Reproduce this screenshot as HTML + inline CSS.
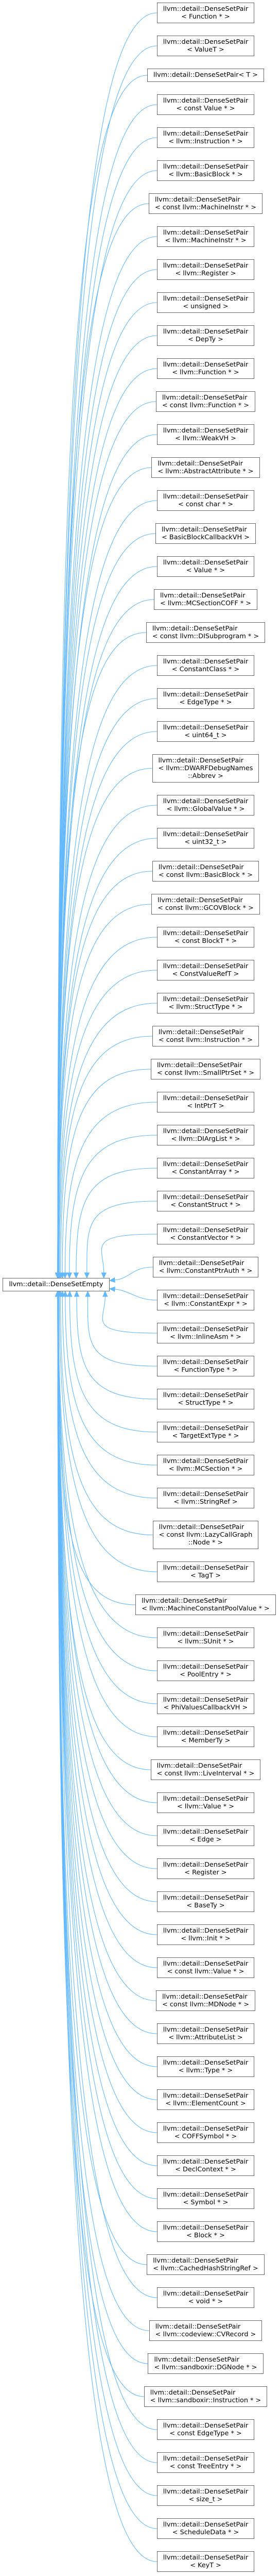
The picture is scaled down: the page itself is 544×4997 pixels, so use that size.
<!DOCTYPE html>
<html><head><meta charset="utf-8">
<style>
html,body{margin:0;padding:0;background:#fff;}
body{width:544px;height:4997px;position:relative;overflow:hidden;font-family:"DejaVu Sans","Liberation Sans",sans-serif;font-size:12.8px;color:#000;}
#col{position:absolute;left:256px;width:287px;top:5px;display:flex;flex-direction:column;align-items:center;gap:24px;}
.n{box-sizing:border-box;border:1px solid #666;background:#fff;padding:4px 11px;line-height:15px;height:40px;white-space:nowrap;text-align:center;position:relative;z-index:2;}
.n span{display:block;}
.n span:first-child{text-align:left;}
.n.s{height:26px;padding-top:4px;}
.n.t{height:55px;}
#root{position:absolute;left:5px;top:2479px;width:208px;height:26px;box-sizing:border-box;border:1px solid #666;background:#fff;text-align:center;line-height:24px;z-index:2;}
svg{position:absolute;left:0;top:0;z-index:1;}
</style></head><body>
<svg id="sv" width="544" height="4997"></svg>
<div id="root">llvm::detail::DenseSetEmpty</div>
<div id="col">
<div class="n"><span>llvm::detail::DenseSetPair</span><span>&lt; Function * &gt;</span></div>
<div class="n"><span>llvm::detail::DenseSetPair</span><span>&lt; ValueT &gt;</span></div>
<div class="n s"><span>llvm::detail::DenseSetPair&lt; T &gt;</span></div>
<div class="n"><span>llvm::detail::DenseSetPair</span><span>&lt; const Value * &gt;</span></div>
<div class="n"><span>llvm::detail::DenseSetPair</span><span>&lt; llvm::Instruction * &gt;</span></div>
<div class="n"><span>llvm::detail::DenseSetPair</span><span>&lt; llvm::BasicBlock * &gt;</span></div>
<div class="n"><span>llvm::detail::DenseSetPair</span><span>&lt; const llvm::MachineInstr * &gt;</span></div>
<div class="n"><span>llvm::detail::DenseSetPair</span><span>&lt; llvm::MachineInstr * &gt;</span></div>
<div class="n"><span>llvm::detail::DenseSetPair</span><span>&lt; llvm::Register &gt;</span></div>
<div class="n"><span>llvm::detail::DenseSetPair</span><span>&lt; unsigned &gt;</span></div>
<div class="n"><span>llvm::detail::DenseSetPair</span><span>&lt; DepTy &gt;</span></div>
<div class="n"><span>llvm::detail::DenseSetPair</span><span>&lt; llvm::Function * &gt;</span></div>
<div class="n"><span>llvm::detail::DenseSetPair</span><span>&lt; const llvm::Function * &gt;</span></div>
<div class="n"><span>llvm::detail::DenseSetPair</span><span>&lt; llvm::WeakVH &gt;</span></div>
<div class="n"><span>llvm::detail::DenseSetPair</span><span>&lt; llvm::AbstractAttribute * &gt;</span></div>
<div class="n"><span>llvm::detail::DenseSetPair</span><span>&lt; const char * &gt;</span></div>
<div class="n"><span>llvm::detail::DenseSetPair</span><span>&lt; BasicBlockCallbackVH &gt;</span></div>
<div class="n"><span>llvm::detail::DenseSetPair</span><span>&lt; Value * &gt;</span></div>
<div class="n"><span>llvm::detail::DenseSetPair</span><span>&lt; llvm::MCSectionCOFF * &gt;</span></div>
<div class="n"><span>llvm::detail::DenseSetPair</span><span>&lt; const llvm::DISubprogram * &gt;</span></div>
<div class="n"><span>llvm::detail::DenseSetPair</span><span>&lt; ConstantClass * &gt;</span></div>
<div class="n"><span>llvm::detail::DenseSetPair</span><span>&lt; EdgeType * &gt;</span></div>
<div class="n"><span>llvm::detail::DenseSetPair</span><span>&lt; uint64_t &gt;</span></div>
<div class="n t"><span>llvm::detail::DenseSetPair</span><span>&lt; llvm::DWARFDebugNames</span><span>::Abbrev &gt;</span></div>
<div class="n"><span>llvm::detail::DenseSetPair</span><span>&lt; llvm::GlobalValue * &gt;</span></div>
<div class="n"><span>llvm::detail::DenseSetPair</span><span>&lt; uint32_t &gt;</span></div>
<div class="n"><span>llvm::detail::DenseSetPair</span><span>&lt; const llvm::BasicBlock * &gt;</span></div>
<div class="n"><span>llvm::detail::DenseSetPair</span><span>&lt; const llvm::GCOVBlock * &gt;</span></div>
<div class="n"><span>llvm::detail::DenseSetPair</span><span>&lt; const BlockT * &gt;</span></div>
<div class="n"><span>llvm::detail::DenseSetPair</span><span>&lt; ConstValueRefT &gt;</span></div>
<div class="n"><span>llvm::detail::DenseSetPair</span><span>&lt; llvm::StructType * &gt;</span></div>
<div class="n"><span>llvm::detail::DenseSetPair</span><span>&lt; const llvm::Instruction * &gt;</span></div>
<div class="n"><span>llvm::detail::DenseSetPair</span><span>&lt; const llvm::SmallPtrSet * &gt;</span></div>
<div class="n"><span>llvm::detail::DenseSetPair</span><span>&lt; IntPtrT &gt;</span></div>
<div class="n"><span>llvm::detail::DenseSetPair</span><span>&lt; llvm::DIArgList * &gt;</span></div>
<div class="n"><span>llvm::detail::DenseSetPair</span><span>&lt; ConstantArray * &gt;</span></div>
<div class="n"><span>llvm::detail::DenseSetPair</span><span>&lt; ConstantStruct * &gt;</span></div>
<div class="n"><span>llvm::detail::DenseSetPair</span><span>&lt; ConstantVector * &gt;</span></div>
<div class="n"><span>llvm::detail::DenseSetPair</span><span>&lt; llvm::ConstantPtrAuth * &gt;</span></div>
<div class="n"><span>llvm::detail::DenseSetPair</span><span>&lt; llvm::ConstantExpr * &gt;</span></div>
<div class="n"><span>llvm::detail::DenseSetPair</span><span>&lt; llvm::InlineAsm * &gt;</span></div>
<div class="n"><span>llvm::detail::DenseSetPair</span><span>&lt; FunctionType * &gt;</span></div>
<div class="n"><span>llvm::detail::DenseSetPair</span><span>&lt; StructType * &gt;</span></div>
<div class="n"><span>llvm::detail::DenseSetPair</span><span>&lt; TargetExtType * &gt;</span></div>
<div class="n"><span>llvm::detail::DenseSetPair</span><span>&lt; llvm::MCSection * &gt;</span></div>
<div class="n"><span>llvm::detail::DenseSetPair</span><span>&lt; llvm::StringRef &gt;</span></div>
<div class="n t"><span>llvm::detail::DenseSetPair</span><span>&lt; const llvm::LazyCallGraph</span><span>::Node * &gt;</span></div>
<div class="n"><span>llvm::detail::DenseSetPair</span><span>&lt; TagT &gt;</span></div>
<div class="n"><span>llvm::detail::DenseSetPair</span><span>&lt; llvm::MachineConstantPoolValue * &gt;</span></div>
<div class="n"><span>llvm::detail::DenseSetPair</span><span>&lt; llvm::SUnit * &gt;</span></div>
<div class="n"><span>llvm::detail::DenseSetPair</span><span>&lt; PoolEntry * &gt;</span></div>
<div class="n"><span>llvm::detail::DenseSetPair</span><span>&lt; PhiValuesCallbackVH &gt;</span></div>
<div class="n"><span>llvm::detail::DenseSetPair</span><span>&lt; MemberTy &gt;</span></div>
<div class="n"><span>llvm::detail::DenseSetPair</span><span>&lt; const llvm::LiveInterval * &gt;</span></div>
<div class="n"><span>llvm::detail::DenseSetPair</span><span>&lt; llvm::Value * &gt;</span></div>
<div class="n"><span>llvm::detail::DenseSetPair</span><span>&lt; Edge &gt;</span></div>
<div class="n"><span>llvm::detail::DenseSetPair</span><span>&lt; Register &gt;</span></div>
<div class="n"><span>llvm::detail::DenseSetPair</span><span>&lt; BaseTy &gt;</span></div>
<div class="n"><span>llvm::detail::DenseSetPair</span><span>&lt; llvm::Init * &gt;</span></div>
<div class="n"><span>llvm::detail::DenseSetPair</span><span>&lt; const llvm::Value * &gt;</span></div>
<div class="n"><span>llvm::detail::DenseSetPair</span><span>&lt; const llvm::MDNode * &gt;</span></div>
<div class="n"><span>llvm::detail::DenseSetPair</span><span>&lt; llvm::AttributeList &gt;</span></div>
<div class="n"><span>llvm::detail::DenseSetPair</span><span>&lt; llvm::Type * &gt;</span></div>
<div class="n"><span>llvm::detail::DenseSetPair</span><span>&lt; llvm::ElementCount &gt;</span></div>
<div class="n"><span>llvm::detail::DenseSetPair</span><span>&lt; COFFSymbol * &gt;</span></div>
<div class="n"><span>llvm::detail::DenseSetPair</span><span>&lt; DeclContext * &gt;</span></div>
<div class="n"><span>llvm::detail::DenseSetPair</span><span>&lt; Symbol * &gt;</span></div>
<div class="n"><span>llvm::detail::DenseSetPair</span><span>&lt; Block * &gt;</span></div>
<div class="n"><span>llvm::detail::DenseSetPair</span><span>&lt; llvm::CachedHashStringRef &gt;</span></div>
<div class="n"><span>llvm::detail::DenseSetPair</span><span>&lt; void * &gt;</span></div>
<div class="n"><span>llvm::detail::DenseSetPair</span><span>&lt; llvm::codeview::CVRecord &gt;</span></div>
<div class="n"><span>llvm::detail::DenseSetPair</span><span>&lt; llvm::sandboxir::DGNode * &gt;</span></div>
<div class="n"><span>llvm::detail::DenseSetPair</span><span>&lt; llvm::sandboxir::Instruction * &gt;</span></div>
<div class="n"><span>llvm::detail::DenseSetPair</span><span>&lt; const EdgeType * &gt;</span></div>
<div class="n"><span>llvm::detail::DenseSetPair</span><span>&lt; const TreeEntry * &gt;</span></div>
<div class="n"><span>llvm::detail::DenseSetPair</span><span>&lt; size_t &gt;</span></div>
<div class="n"><span>llvm::detail::DenseSetPair</span><span>&lt; ScheduleData * &gt;</span></div>
<div class="n"><span>llvm::detail::DenseSetPair</span><span>&lt; KeyT &gt;</span></div>
</div>
<script>
(function(){
var sv=document.getElementById('sv');
var RC=2492,RT=2479,RB=2505,RR=213,col='#63b8ff';
var out='';
var nodes=document.querySelectorAll('#col .n');
for(var i=0;i<nodes.length;i++){
  var r=nodes[i].getBoundingClientRect();
  var L=r.left,cy=r.top+r.height/2;
  var dy=cy-RC,ad=Math.abs(dy);
  var ex,ey,c1x,c1y,c2x,c2y;
  if(ad<=90){
    ex=RR;ey=RC+(dy<0?-8:8);
    c1x=L-40;c1y=cy;c2x=RR+40;c2y=ey+(cy-ey)*0.15;
  }else{
    ex=112+95*Math.exp(-(ad-90)/140);
    ey=dy<0?RT:RB;
    c1x=L-140;c1y=cy;c2x=ex;c2y=cy+(ey-cy)*0.3;
  }
  var tx=ex-c2x,ty=ey-c2y,len=Math.sqrt(tx*tx+ty*ty);tx/=len;ty/=len;
  var bx=ex-tx*10,by=ey-ty*10,px=-ty,py=tx;
  out+='<path d="M'+L+','+cy+' C'+c1x+','+c1y+' '+c2x+','+c2y+' '+bx+','+by+'" fill="none" stroke="'+col+'" stroke-width="1.1"/>';
  out+='<polygon points="'+ex+','+ey+' '+(bx+px*4.5)+','+(by+py*4.5)+' '+(bx-px*4.5)+','+(by-py*4.5)+'" fill="'+col+'" stroke="'+col+'"/>';
}
sv.innerHTML=out;
})();
</script>
</body></html>
